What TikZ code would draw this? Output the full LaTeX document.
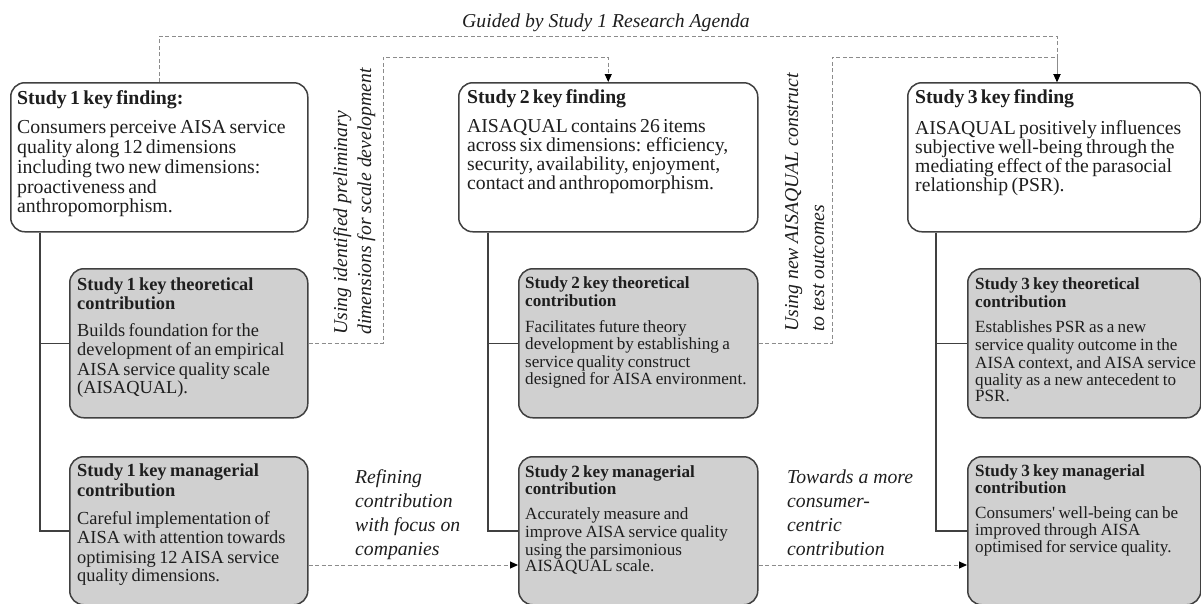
\documentclass[tikz,border=0pt]{standalone}
\usepackage{fontspec}
\setmainfont{Liberation Serif}
\usetikzlibrary{arrows.meta}
\definecolor{edge}{HTML}{404040}
\definecolor{panel}{HTML}{D0D0D0}
\definecolor{guide}{HTML}{8C8C8C}
\definecolor{ink}{HTML}{1E1E1E}
\newcommand\fsz[2]{\fontsize{#1}{#2}\selectfont}

\begin{document}
\begin{tikzpicture}[x=1pt,y=-1pt,
  card/.style={draw=edge, line width=1.5pt, rounded corners=14pt, anchor=north west, inner sep=0pt},
  findcard/.style={card, fill=white},
  contribcard/.style={card, fill=panel},
  copy/.style={anchor=north west, inner sep=0pt, align=left, text=ink, text width=#1},
  copy/.default=290pt,
  tree/.style={draw=edge, line width=1.5pt},
  guideline/.style={draw=guide, line width=1pt, dash pattern=on 4pt off 2.5pt},
  guidearrow/.style={guideline, -{Triangle[length=8pt,width=7pt,color=black]}},
  note/.style={inner sep=0pt, align=left, text=ink, font=\fsz{19.7}{24}\itshape},
]
\clip (0,0) rectangle (1201,603);

% ---- key finding cards ----
\node[findcard, minimum width=297pt, minimum height=149pt] (s1f) at (10,82) {};
\node[findcard, minimum width=299pt, minimum height=149pt] (s2f) at (458,82) {};
\node[findcard, minimum width=293pt, minimum height=149pt] (s3f) at (907,82) {};

% ---- theoretical contribution cards ----
\node[contribcard, minimum width=238pt, minimum height=149pt] (s1t) at (69,268) {};
\node[contribcard, minimum width=239pt, minimum height=149pt] (s2t) at (518,268) {};
\node[contribcard, minimum width=233pt, minimum height=149pt] (s3t) at (967,268) {};

% ---- managerial contribution cards ----
\node[contribcard, minimum width=238pt, minimum height=148pt] (s1m) at (69,456) {};
\node[contribcard, minimum width=239pt, minimum height=148pt] (s2m) at (518,456) {};
\node[contribcard, minimum width=233pt, minimum height=148pt] (s3m) at (967,456) {};

% ---- card texts ----
\node[copy] (s1ftext) at (17,90) {\fsz{19.8}{20}\strut\textbf{Study 1 key finding:}\par\vspace{9pt}Consumers perceive AISA service\\quality along 12 dimensions\\including two new dimensions:\\proactiveness and\\anthropomorphism.};
\node[copy] (s2ftext) at (467,89.7) {\fsz{19.7}{19}\strut\textbf{Study 2 key finding}\par\vspace{10pt}AISAQUAL contains 26 items\\across six dimensions: efficiency,\\security, availability, enjoyment,\\contact and anthropomorphism.};
\node[copy] (s3ftext) at (915,89.7) {\fsz{19.7}{19}\strut\textbf{Study 3 key finding}\par\vspace{10pt}AISAQUAL positively influences\\subjective well-being through the\\mediating effect of the parasocial\\relationship (PSR).};

\node[copy=240pt] (s1ttext) at (77,276.7) {\fsz{18.4}{19}\strut\textbf{Study 1 key theoretical\\contribution}\par\fsz{18.4}{19.6}\vspace{7.4pt}Builds foundation for the\\development of an empirical\\AISA service quality scale\\(AISAQUAL).};
\node[copy=240pt] (s2ttext) at (525,276.1) {\fsz{17.1}{17.5}\strut\textbf{Study 2 key theoretical\\contribution}\par\fsz{17.1}{17.7}\vspace{8.3pt}Facilitates future theory\\development by establishing a\\service quality construct\\designed for AISA environment.};
\node[copy=240pt] (s3ttext) at (975,276.1) {\fsz{17.1}{18.5}\strut\textbf{Study 3 key theoretical\\contribution}\par\fsz{17.1}{17.7}\vspace{7.3pt}Establishes PSR as a new\\service quality outcome in the\\AISA context, and AISA service\\quality as a new antecedent to\\PSR.};

\node[copy=240pt] (s1mtext) at (77,464) {\fsz{18.4}{18}\strut\textbf{Study 1 key managerial\\contribution}\par\fsz{18.4}{19.6}\vspace{8.4pt}Careful implementation of\\AISA with attention towards\\optimising 12 AISA service\\quality dimensions.};
\node[copy=240pt] (s2mtext) at (525,465.1) {\fsz{17.1}{16.5}\strut\textbf{Study 2 key managerial\\contribution}\par\fsz{17.1}{17.7}\vspace{7.3pt}Accurately measure and\\improve AISA service quality\\using the parsimonious\\AISAQUAL scale.};
\node[copy=240pt] (s3mtext) at (975,464.1) {\fsz{17.1}{17}\strut\textbf{Study 3 key managerial\\contribution}\par\fsz{17.1}{17.7}\vspace{7.3pt}Consumers\textquotesingle\ well-being can be\\improved through AISA\\optimised for service quality.};

% ---- hierarchy lines inside each study ----
\draw[tree] ([xshift=30pt]s1f.south west) |- (s1t.west);
\draw[tree] ([xshift=30pt]s1f.south west) |- (s1m.west);
\draw[tree] ([xshift=30pt]s2f.south west) |- (s2t.west);
\draw[tree] ([xshift=30pt]s2f.south west) |- (s2m.west);
\draw[tree] ([xshift=29pt]s3f.south west) |- (s3t.west);
\draw[tree] ([xshift=29pt]s3f.south west) |- (s3m.west);

% ---- dashed links between studies ----
\coordinate (s3port) at (1057,82);
\draw[guidearrow] (s1f.north) -- ++(0,-46) -| (s3port);
\draw[guidearrow] (s1t.east) -| (383,57) -| (s2f.north);
\draw[guidearrow] (s2t.east) -| (832,57) -| (s3port);
\draw[guidearrow] (s1m.east |- 0,565) -- (s2m.west |- 0,565);
\draw[guidearrow] (s2m.east |- 0,565) -- (s3m.west |- 0,565);

% ---- link labels ----
\node[note, anchor=base] (agenda) at (606,27) {Guided by Study 1 Research Agenda};
\node[note, rotate=90, anchor=north west] (usedims) at (330.2,335) {\strut Using identified preliminary\\dimensions for scale development};
\node[note, rotate=90, anchor=north west, font=\fsz{19.7}{26}\itshape] (usequal) at (779.8,332) {\strut Using new AISAQUAL construct\\to test outcomes};
\node[note, anchor=north west] (refine) at (355,466.2) {\strut Refining\\contribution\\with focus on\\companies};
\node[note, anchor=north west] (toward) at (787,466.2) {\strut Towards a more\\consumer-\\centric\\contribution};
\end{tikzpicture}
\end{document}
